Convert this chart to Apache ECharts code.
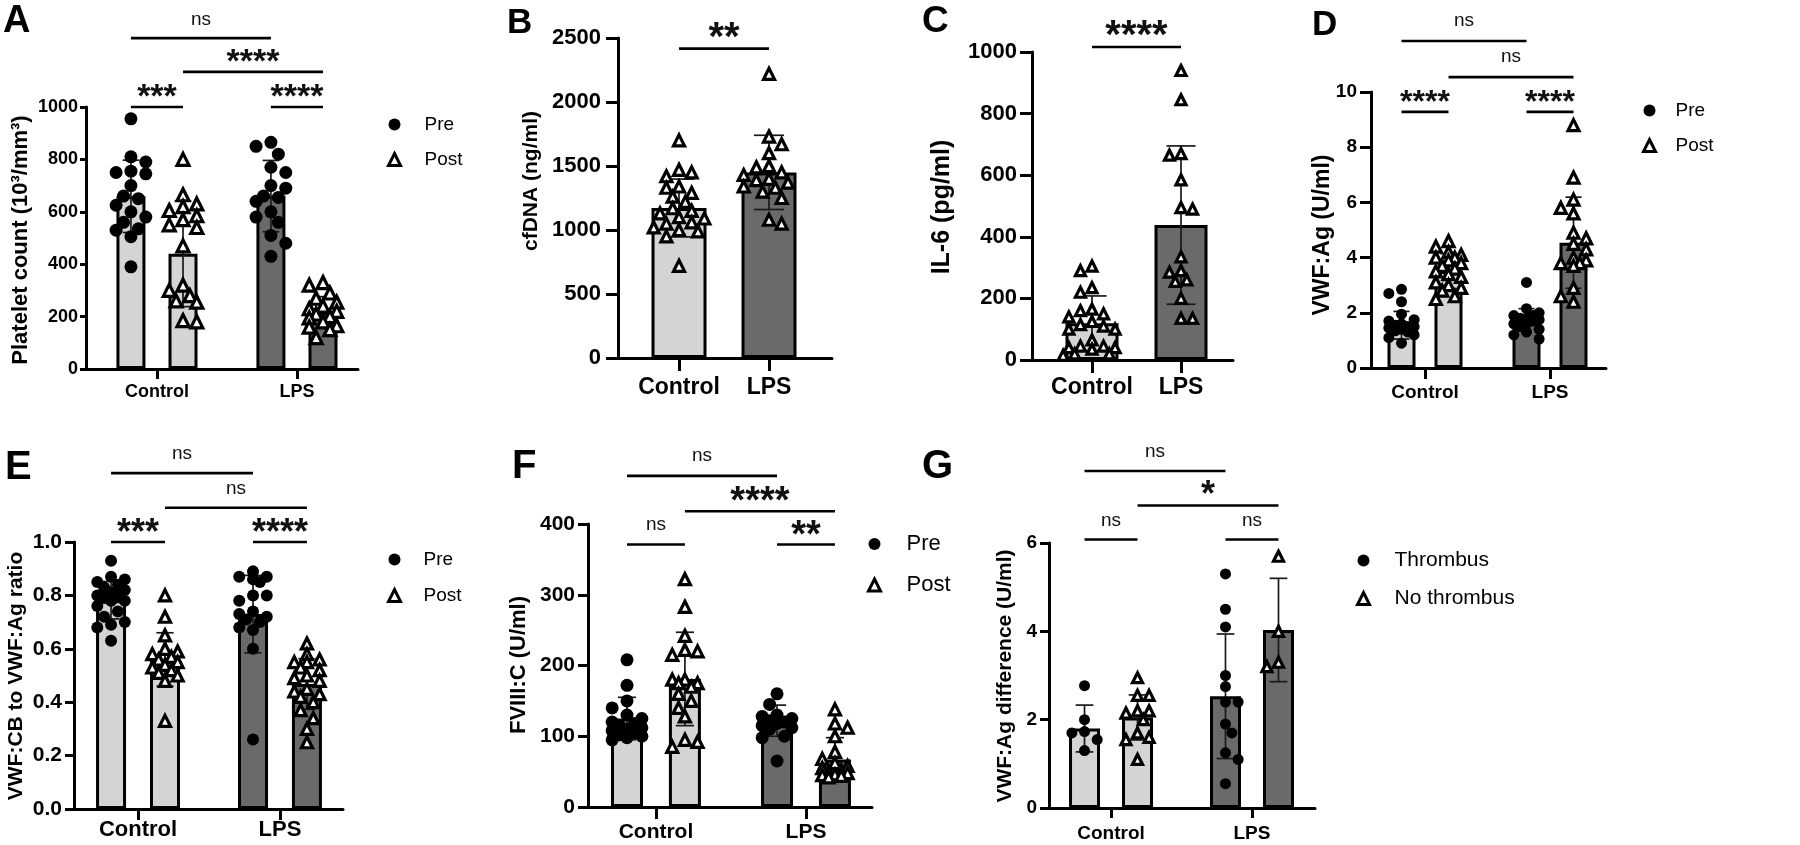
<!DOCTYPE html>
<html><head><meta charset="utf-8">
<script src="https://cdn.jsdelivr.net/npm/echarts@6/dist/echarts.min.js"></script>
<style>html,body{margin:0;padding:0;background:#fff}#main{width:1800px;height:845px}</style>
</head><body><div id="main"></div>
<script>
// ---------------- data ----------------
const groupLabels = ['Control', 'LPS'];

// A: platelet count (10^3/mm^3)
const plateletCtrlPre  = [955, 810, 790, 755, 750, 745, 700, 660, 650, 625, 600, 580, 560, 535, 530, 505, 390];
const plateletCtrlPost = [800, 665, 630, 620, 605, 585, 570, 550, 540, 470, 320, 300, 280, 260, 255, 185, 180];
const plateletLpsPre   = [865, 850, 820, 770, 750, 700, 690, 660, 655, 640, 600, 580, 560, 510, 480, 430];
const plateletLpsPost  = [330, 320, 290, 270, 255, 240, 230, 220, 210, 200, 195, 180, 165, 160, 150, 120];
const plateletMeans = [659, 440, 660, 216];
const plateletSD    = [138, 202, 136, 60];
const plateletSig = [[0, 2, 1263, 'ns'], [1, 3, 1134, '****'], [0, 1, 1000, '***'], [2, 3, 1000, '****']];

// B: cfDNA (ng/ml)
const cfdnaCtrl = [1700, 1470, 1450, 1420, 1340, 1330, 1290, 1260, 1220, 1170, 1150, 1130, 1100, 1090, 1060, 1050, 1020, 1000, 990, 950, 720];
const cfdnaLps  = [2220, 1730, 1670, 1600, 1500, 1490, 1450, 1430, 1400, 1390, 1370, 1340, 1330, 1300, 1250, 1080, 1050];
const cfdnaMeans = [1172, 1450];
const cfdnaSD    = [226, 290];
const cfdnaSig = [[0, 1, 2417, '**']];

// C: IL-6 (pg/ml)
const il6Ctrl = [305, 290, 235, 220, 165, 160, 150, 140, 125, 115, 110, 100, 100, 65, 45, 45, 40, 40, 35, 20, 20, 15];
const il6Lps  = [940, 845, 670, 665, 585, 495, 490, 335, 290, 285, 260, 255, 200, 135, 135];
const il6Means = [119, 438];
const il6SD    = [89, 257];
const il6Sig = [[0, 1, 1016, '****']];

// D: VWF:Ag (U/ml)
const vwfCtrlPre  = [2.85, 2.7, 2.4, 1.95, 1.75, 1.7, 1.6, 1.55, 1.5, 1.5, 1.45, 1.4, 1.35, 1.3, 1.2, 1.1, 0.9];
const vwfCtrlPost = [4.6, 4.4, 4.2, 4.1, 4.0, 4.0, 3.9, 3.8, 3.7, 3.6, 3.5, 3.4, 3.3, 3.1, 3.0, 2.9, 2.8, 2.6, 2.5];
const vwfLpsPre   = [3.1, 2.15, 2.0, 1.9, 1.9, 1.8, 1.8, 1.75, 1.7, 1.6, 1.6, 1.5, 1.4, 1.3, 1.2, 1.05];
const vwfLpsPost  = [8.8, 6.9, 6.1, 5.8, 5.6, 4.9, 4.7, 4.5, 4.3, 4.0, 3.9, 3.8, 3.8, 3.7, 2.9, 2.6, 2.4];
const vwfMeans = [1.55, 3.51, 1.85, 4.54];
const vwfSD    = [0.5, 0.63, 0.3, 1.65];
const vwfSig = [[0, 2, 11.85, 'ns'], [1, 3, 10.54, 'ns'], [0, 1, 9.28, '****'], [2, 3, 9.28, '****']];

// E: VWF:CB to VWF:Ag ratio
const ratioCtrlPre  = [0.93, 0.87, 0.86, 0.85, 0.84, 0.83, 0.82, 0.81, 0.80, 0.80, 0.79, 0.78, 0.78, 0.76, 0.74, 0.72, 0.70, 0.69, 0.68, 0.63];
const ratioCtrlPost = [0.80, 0.72, 0.65, 0.60, 0.59, 0.58, 0.57, 0.56, 0.55, 0.54, 0.53, 0.52, 0.51, 0.50, 0.48, 0.33];
const ratioLpsPre   = [0.89, 0.87, 0.87, 0.86, 0.85, 0.80, 0.80, 0.78, 0.74, 0.73, 0.72, 0.71, 0.70, 0.68, 0.67, 0.60, 0.26];
const ratioLpsPost  = [0.62, 0.58, 0.56, 0.55, 0.55, 0.53, 0.52, 0.50, 0.49, 0.48, 0.45, 0.44, 0.43, 0.42, 0.40, 0.37, 0.34, 0.30, 0.25];
const ratioMeans = [0.782, 0.56, 0.73, 0.468];
const ratioSD    = [0.07, 0.1, 0.145, 0.095];
const ratioSig = [[0, 2, 1.258, 'ns'], [1, 3, 1.128, 'ns'], [0, 1, 1.0, '***'], [2, 3, 1.0, '****']];

// F: FVIII:C (U/ml)
const f8CtrlPre  = [208, 172, 150, 140, 130, 125, 120, 118, 115, 112, 110, 108, 105, 102, 100, 98, 95];
const f8CtrlPost = [322, 283, 242, 222, 220, 215, 180, 180, 175, 175, 170, 160, 150, 140, 128, 95, 92, 85];
const f8LpsPre   = [160, 145, 130, 128, 125, 122, 120, 118, 115, 112, 110, 100, 98, 65];
const f8LpsPost  = [138, 118, 112, 100, 78, 68, 62, 58, 55, 52, 50, 48, 46, 45, 44, 42];
const f8Means = [125, 181, 122, 67];
const f8SD    = [30, 66, 22, 31];
const f8Sig = [[0, 2, 468, 'ns'], [1, 3, 418, '****'], [0, 1, 371, 'ns'], [2, 3, 371, '**']];

// G: VWF:Ag difference (U/ml)
const diffCtrlThr   = [2.77, 2.0, 1.73, 1.7, 1.55, 1.3];
const diffCtrlNoThr = [2.95, 2.55, 2.55, 2.2, 2.2, 2.15, 2.0, 1.7, 1.6, 1.55, 1.1];
const diffLpsThr    = [5.3, 4.5, 4.1, 3.0, 2.75, 2.4, 2.4, 1.9, 1.7, 1.25, 1.1, 0.55];
const diffLpsNoThr  = [5.7, 4.0, 3.3, 3.2];
const diffMeans = [1.8, 2.05, 2.53, 4.03];
const diffSD    = [0.53, 0.51, 1.41, 1.17];
const diffSig = [[0, 2, 7.63, 'ns'], [1, 3, 6.85, '*'], [0, 1, 6.08, 'ns'], [2, 3, 6.08, 'ns']];

// ---------------- layout / style ----------------
const LIGHT = '#d4d4d4', DARK = '#6a6a6a';
const FONT = '"Liberation Sans", Arial, Helvetica, sans-serif';

const panels = [
  { letter: 'A', letterPos: [3, 22, 38], box: [86, 107, 272, 262], xr: [-0.507, 1.436], yMax: 1000, yStep: 200, dec: 0,
    paired: true, off: 0.186, barW: 32, means: plateletMeans, sd: plateletSD,
    groups: [plateletCtrlPre, plateletCtrlPost, plateletLpsPre, plateletLpsPost], names: ['Pre', 'Post'], sym: [13, 12],
    sig: plateletSig, ast: 34, astGap: 16, nsGap: 16,
    title: 'Platelet count (10³/mm³)', titlePos: [21, 240, 22],
    tickFont: 18, tickLen: 6, tickMargin: 8, xFont: 18, xTick: 10, xMargin: 14,
    legend: { cx: 393, cy: 125, dy: 36, textX: 423, fs: 19 } },
  { letter: 'B', letterPos: [507, 23, 35], box: [618, 38, 214, 320], xr: [-0.678, 1.7], yMax: 2500, yStep: 500, dec: 0,
    paired: false, off: 0, barW: 58, means: cfdnaMeans, sd: cfdnaSD,
    groups: [cfdnaCtrl, cfdnaLps], names: ['cfDNA'], sym: [11, 11],
    sig: cfdnaSig, ast: 40, astGap: 18, nsGap: 17,
    title: 'cfDNA (ng/ml)', titlePos: [531, 181, 21],
    tickFont: 22, tickLen: 12, tickMargin: 17, xFont: 23, xTick: 13, xMargin: 18, legend: null },
  { letter: 'C', letterPos: [922, 22, 37], box: [1032, 52, 201, 308], xr: [-0.674, 1.584], yMax: 1000, yStep: 200, dec: 0,
    paired: false, off: 0, barW: 56, means: il6Means, sd: il6SD,
    groups: [il6Ctrl, il6Lps], names: ['IL-6'], sym: [10, 10],
    sig: il6Sig, ast: 40, astGap: 18, nsGap: 17,
    title: 'IL-6 (pg/ml)', titlePos: [942, 207, 25],
    tickFont: 22, tickLen: 12, tickMargin: 15, xFont: 23, xTick: 13, xMargin: 16, legend: null },
  { letter: 'D', letterPos: [1312, 25, 35], box: [1371, 92, 235, 276], xr: [-0.432, 1.448], yMax: 10, yStep: 2, dec: 0,
    paired: true, off: 0.188, barW: 31, means: vwfMeans, sd: vwfSD,
    groups: [vwfCtrlPre, vwfCtrlPost, vwfLpsPre, vwfLpsPost], names: ['Pre', 'Post'], sym: [11, 11],
    sig: vwfSig, ast: 32, astGap: 15, nsGap: 18,
    title: 'VWF:Ag (U/ml)', titlePos: [1323, 235, 23],
    tickFont: 19, tickLen: 11, tickMargin: 14, xFont: 19, xTick: 11, xMargin: 15,
    legend: { cx: 1648, cy: 111, dy: 36, textX: 1674, fs: 19 } },
  { letter: 'E', letterPos: [5, 468, 40], box: [74, 542, 269, 267], xr: [-0.451, 1.444], yMax: 1, yStep: 0.2, dec: 1,
    paired: true, off: 0.19, barW: 33, means: ratioMeans, sd: ratioSD,
    groups: [ratioCtrlPre, ratioCtrlPost, ratioLpsPre, ratioLpsPost], names: ['Pre', 'Post'], sym: [12, 11],
    sig: ratioSig, ast: 36, astGap: 15, nsGap: 17,
    title: 'VWF:CB to VWF:Ag ratio', titlePos: [16, 676, 21],
    tickFont: 21, tickLen: 9, tickMargin: 12, xFont: 22, xTick: 11, xMargin: 10,
    legend: { cx: 393, cy: 560, dy: 37, textX: 422, fs: 19 } },
  { letter: 'F', letterPos: [512, 467, 40], box: [588, 524, 284, 283], xr: [-0.453, 1.44], yMax: 400, yStep: 100, dec: 0,
    paired: true, off: 0.193, barW: 35, means: f8Means, sd: f8SD,
    groups: [f8CtrlPre, f8CtrlPost, f8LpsPre, f8LpsPost], names: ['Pre', 'Post'], sym: [13, 11],
    sig: f8Sig, ast: 38, astGap: 16, nsGap: 18,
    title: 'FVIII:C (U/ml)', titlePos: [519, 665, 22],
    tickFont: 21, tickLen: 10, tickMargin: 13, xFont: 21, xTick: 12, xMargin: 15,
    legend: { cx: 873, cy: 543, dy: 39, textX: 905, fs: 22 } },
  { letter: 'G', letterPos: [922, 467, 40], box: [1049, 543, 266, 265], xr: [-0.44, 1.447], yMax: 6, yStep: 2, dec: 0,
    paired: true, off: 0.188, barW: 34, means: diffMeans, sd: diffSD,
    groups: [diffCtrlThr, diffCtrlNoThr, diffLpsThr, diffLpsNoThr], names: ['Thrombus', 'No thrombus'], sym: [11, 10],
    sig: diffSig, ast: 36, astGap: 17, nsGap: 17,
    title: 'VWF:Ag difference (U/ml)', titlePos: [1005, 676, 21],
    tickFont: 19, tickLen: 9, tickMargin: 12, xFont: 19, xTick: 10, xMargin: 16,
    legend: { cx: 1362, cy: 560, dy: 37, textX: 1393, fs: 21 } }
];

// deterministic beeswarm spread of points (pixel space) inside a bar
function swarm(values, cx, unitPx, yPx, d, maxOff) {
  const placed = [];
  const step = d * 0.55;
  return values.map(v => {
    const y = v * yPx;
    const sign = placed.length % 2 === 0 ? 1 : -1;
    const cands = [0];
    for (let k = 1; k * step <= maxOff + 0.01; k++) cands.push(sign * k * step, -sign * k * step);
    let chosen = null, fb = 0, fbScore = -1;
    for (const o of cands) {
      let minD = Infinity;
      for (const q of placed) { const dd = Math.hypot(q.o - o, q.y - y); if (dd < minD) minD = dd; }
      if (minD >= d * 0.92) { chosen = o; break; }
      if (minD > fbScore) { fbScore = minD; fb = o; }
    }
    if (chosen === null) chosen = fb;
    placed.push({ o: chosen, y });
    return [cx + chosen / unitPx, v];
  });
}

const grids = [], xAxes = [], yAxes = [], series = [], legends = [], graphics = [];
const axisLine = { show: true, onZero: false, lineStyle: { color: '#000', width: 3 } };
const TRI_STYLE = { color: '#fff', borderColor: '#000', borderWidth: 3.2, opacity: 1 };

panels.forEach((p, i) => {
  const [L, T, W, H] = p.box;
  grids.push({ left: L, top: T, width: W, height: H, containLabel: false });
  xAxes.push({
    type: 'value', gridIndex: i, min: p.xr[0], max: p.xr[1],
    axisLine: axisLine, splitLine: { show: false },
    axisTick: { show: true, customValues: [0, 1], length: p.xTick, lineStyle: { color: '#000', width: 3 } },
    axisLabel: { show: true, customValues: [0, 1], formatter: v => groupLabels[Math.round(v)], margin: p.xMargin,
      fontSize: p.xFont, fontWeight: 'bold', fontFamily: FONT, color: '#000' }
  });
  yAxes.push({
    type: 'value', gridIndex: i, min: 0, max: p.yMax, interval: p.yStep,
    axisLine: axisLine, splitLine: { show: false },
    axisTick: { show: true, length: p.tickLen, lineStyle: { color: '#000', width: 3 } },
    axisLabel: { formatter: v => v.toFixed(p.dec), margin: p.tickMargin, fontSize: p.tickFont,
      fontWeight: 'bold', fontFamily: FONT, color: '#000' }
  });
  const xs = p.paired ? [-p.off, p.off, 1 - p.off, 1 + p.off] : [0, 1];
  const unitPx = W / (p.xr[1] - p.xr[0]);
  const yPx = H / p.yMax;

  series.push({
    type: 'bar', xAxisIndex: i, yAxisIndex: i, z: 2, silent: true, barWidth: p.barW - 3,
    itemStyle: { borderColor: '#000', borderWidth: 3 },
    data: p.means.map((m, k) => ({ value: [xs[k], m], itemStyle: { color: xs[k] < 0.5 ? LIGHT : DARK } }))
  });

  const capHalf = p.barW * 0.26;
  series.push({
    type: 'custom', xAxisIndex: i, yAxisIndex: i, z: 3, silent: true, clip: false,
    data: p.means.map((m, k) => [xs[k], m, p.sd[k]]),
    renderItem: (params, api) => {
      const x = api.value(0), m = api.value(1), s = api.value(2);
      const a = api.coord([x, m + s]), b = api.coord([x, m - s]);
      const st = { stroke: '#1a1a1a', lineWidth: 1.7 };
      return { type: 'group', children: [
        { type: 'line', shape: { x1: a[0], y1: a[1], x2: b[0], y2: b[1] }, style: st },
        { type: 'line', shape: { x1: a[0] - capHalf, y1: a[1], x2: a[0] + capHalf, y2: a[1] }, style: st },
        { type: 'line', shape: { x1: b[0] - capHalf, y1: b[1], x2: b[0] + capHalf, y2: b[1] }, style: st }
      ] };
    }
  });

  p.names.forEach((name, si) => {
    const idx = p.paired ? [si, si + 2] : [0, 1];
    const isDot = p.paired && si === 0;
    const d = p.sym[si];
    let pts = [];
    idx.forEach(k => { pts = pts.concat(swarm(p.groups[k], xs[k], unitPx, yPx, d + 0.5, p.barW / 2 + 1)); });
    series.push({
      type: 'scatter', name: name, xAxisIndex: i, yAxisIndex: i, z: 4, silent: true,
      symbol: isDot ? 'circle' : 'triangle', symbolSize: d,
      itemStyle: isDot ? { color: '#000', opacity: 1 } : TRI_STYLE,
      data: pts
    });
  });

  series.push({
    type: 'custom', xAxisIndex: i, yAxisIndex: i, z: 5, silent: true, clip: false,
    data: p.sig.map(s => [xs[s[0]], s[2], xs[s[1]]]),
    renderItem: (params, api) => {
      const label = p.sig[params.dataIndex][3];
      const a = api.coord([api.value(0), api.value(1)]), b = api.coord([api.value(2), api.value(1)]);
      const isNs = label === 'ns';
      const fs = isNs ? 19 : p.ast;
      const ty = isNs ? a[1] - p.nsGap - 2 : a[1] - p.astGap + 0.2 * fs;
      return { type: 'group', children: [
        { type: 'line', shape: { x1: a[0], y1: a[1], x2: b[0], y2: b[1] }, style: { stroke: '#000', lineWidth: 2.6 } },
        { type: 'text', x: (a[0] + b[0]) / 2, y: ty,
          style: { text: label, fill: '#111', font: (isNs ? 'normal ' : 'bold ') + fs + 'px ' + FONT,
            textAlign: 'center', textVerticalAlign: 'middle', align: 'center', verticalAlign: 'middle' } }
      ] };
    }
  });

  if (p.legend) {
    const lg = p.legend, icon = 12;
    legends.push({
      orient: 'vertical', left: lg.cx - icon / 2, top: lg.cy - 10, itemWidth: icon, itemHeight: icon,
      itemGap: lg.dy - 20, padding: 0, selectedMode: false,
      textStyle: { fontFamily: FONT, fontSize: lg.fs, color: '#000', padding: [0, 0, 0, lg.textX - (lg.cx + icon / 2) - 5] },
      data: p.names.map((n, si) => si === 0
        ? { name: n, icon: 'circle', itemStyle: { color: '#000', borderWidth: 0 } }
        : { name: n, icon: 'triangle', itemStyle: { color: '#fff', borderColor: '#000', borderWidth: 3 } })
    });
  }

  graphics.push({ type: 'text', x: p.letterPos[0], y: p.letterPos[1], silent: true,
    style: { text: p.letter, fill: '#000', font: 'bold ' + p.letterPos[2] + 'px ' + FONT,
      textAlign: 'left', textVerticalAlign: 'middle', align: 'left', verticalAlign: 'middle' } });
  graphics.push({ type: 'text', x: p.titlePos[0], y: p.titlePos[1], rotation: Math.PI / 2, silent: true,
    style: { text: p.title, fill: '#000', font: 'bold ' + p.titlePos[2] + 'px ' + FONT,
      textAlign: 'center', textVerticalAlign: 'middle', align: 'center', verticalAlign: 'middle' } });
});

const chart = echarts.init(document.getElementById('main'), null, { renderer: 'canvas' });
chart.setOption({
  backgroundColor: '#fff',
  animation: false,
  grid: grids, xAxis: xAxes, yAxis: yAxes, series: series, legend: legends, graphic: graphics
});
</script></body></html>
